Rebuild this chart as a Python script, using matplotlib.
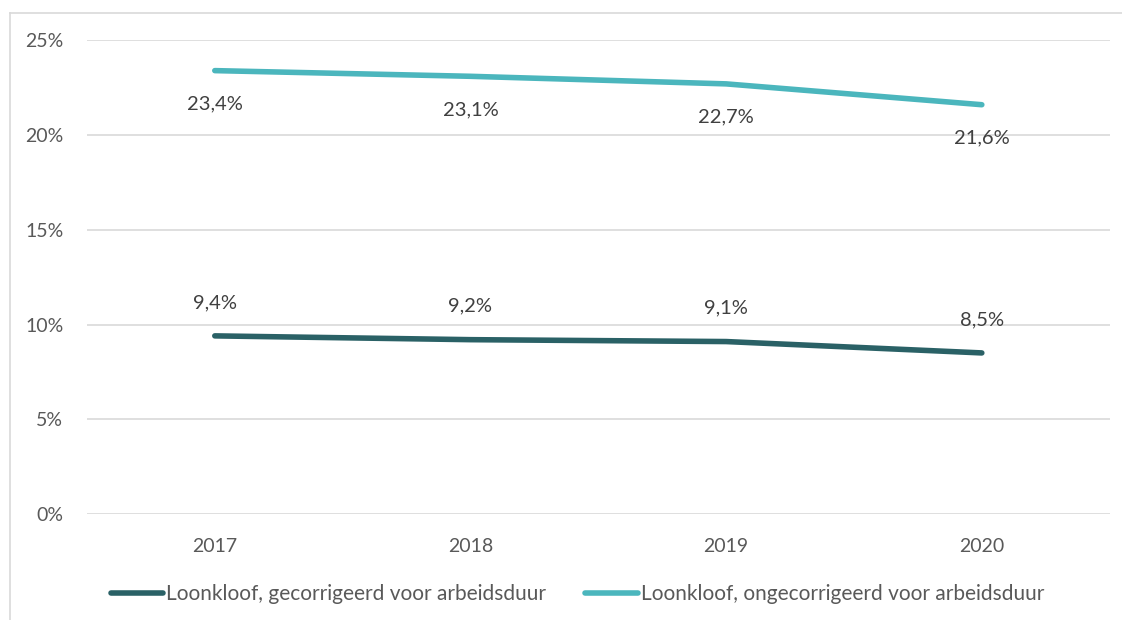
import matplotlib.pyplot as plt
from matplotlib.lines import Line2D

years = ["2017", "2018", "2019", "2020"]
gecorrigeerd = [9.4, 9.2, 9.1, 8.5]
ongecorrigeerd = [23.4, 23.1, 22.7, 21.6]
namen = ["Loonkloof, gecorrigeerd voor arbeidsduur",
         "Loonkloof, ongecorrigeerd voor arbeidsduur"]
kleuren = ["#2a6166", "#4bb6bd"]

plt.rcParams['font.family'] = ['Lato', 'DejaVu Sans']
tekst = "#595959"

fig = plt.figure(figsize=(11.22, 6.2), dpi=100)
ax = fig.add_axes([0.0775, 0.171, 0.9115, 0.764])

x = range(len(years))
ax.plot(x, gecorrigeerd, color=kleuren[0], lw=4, solid_capstyle="round", label=namen[0])
ax.plot(x, ongecorrigeerd, color=kleuren[1], lw=4, solid_capstyle="round", label=namen[1])

for i, v in enumerate(gecorrigeerd):
    ax.annotate(f"{v:.1f}%".replace(".", ","), (i, v), xytext=(0, 24), textcoords="offset points",
                ha="center", va="center", fontsize=14.5, color="#404040")
for i, v in enumerate(ongecorrigeerd):
    ax.annotate(f"{v:.1f}%".replace(".", ","), (i, v), xytext=(0, -24), textcoords="offset points",
                ha="center", va="center", fontsize=14.5, color="#404040")

ax.set_xlim(-0.5, 3.5)
ax.set_ylim(0, 25)
ax.set_yticks([0, 5, 10, 15, 20, 25])
ax.set_yticklabels([f"{t}%" for t in [0, 5, 10, 15, 20, 25]])
ax.set_xticks(list(x))
ax.set_xticklabels(years)
ax.tick_params(length=0, labelsize=14, labelcolor=tekst)
ax.tick_params(axis="y", pad=17)
ax.tick_params(axis="x", pad=17)
ax.grid(axis="y", color="#d9d9d9", lw=1.2)
ax.set_axisbelow(True)
for s in ax.spines.values():
    s.set_visible(False)

leg = ax.legend(loc="center", bbox_to_anchor=(0.4795, -0.169), ncol=2, frameon=False,
                fontsize=15, handlelength=2.5, handletextpad=0.15, columnspacing=1.9,
                labelcolor=tekst)
for h in leg.get_lines():
    h.set_linewidth(4)
    h.set_solid_capstyle("round")

# kader rond de grafiek
fig.add_artist(Line2D([0.009, 0.009], [0, 0.979], color="#d9d9d9", lw=1.2))
fig.add_artist(Line2D([0.009, 1], [0.979, 0.979], color="#d9d9d9", lw=1.2))

fig.savefig("out.png", dpi=100)
